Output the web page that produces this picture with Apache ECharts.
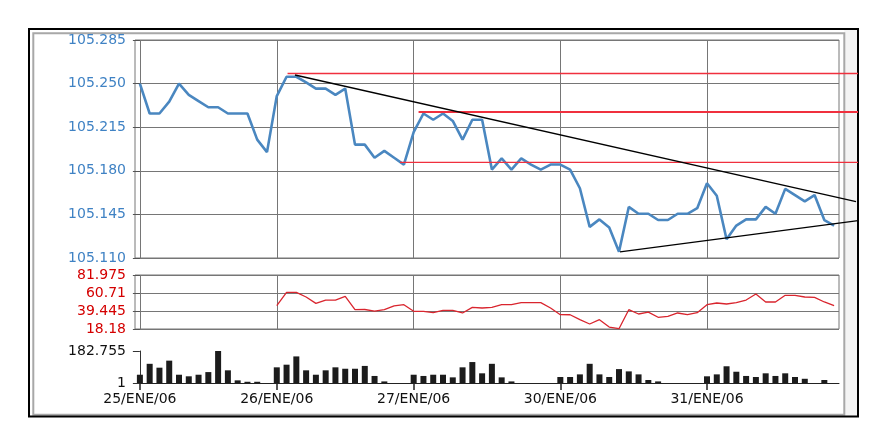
<!DOCTYPE html>
<html>
<head>
<meta charset="utf-8">
<script src="https://cdn.jsdelivr.net/npm/echarts@6/dist/echarts.min.js"></script>
<style>
html,body{margin:0;padding:0;background:#fff;}
#c{width:888px;height:445px;}
</style>
</head>
<body>
<div id="c"></div>
<script>
// ---- data ----
const dayLabels = ['25/ENE/06','26/ENE/06','27/ENE/06','30/ENE/06','31/ENE/06'];
const dayStart = [0,14,28,43,58];

const price = [
 105.250,105.226,105.226,105.2355,105.250,105.241,105.236,105.231,105.231,105.226,105.226,105.226,105.205,105.195,
 105.240,105.2555,105.2555,105.251,105.246,105.246,105.241,105.246,105.201,105.201,105.1905,105.196,105.1905,105.185,
 105.211,105.226,105.221,105.226,105.220,105.205,105.221,105.221,105.181,105.190,105.181,105.190,105.185,105.181,105.185,
 105.185,105.181,105.166,105.135,105.141,105.1345,105.115,105.151,105.1455,105.1455,105.1405,105.1405,105.1455,105.1455,105.150,
 105.170,105.160,105.125,105.136,105.141,105.141,105.151,105.1455,105.1655,105.1605,105.1555,105.1605,105.1405,105.136
];

const rsi = [
 null,null,null,null,null,null,null,null,null,null,null,null,null,null,
 45.7,61.5,61.5,56,48.5,52.4,52.4,56.8,41,41.2,39.4,41,45.4,46.9,
 39.1,39.1,37.5,40.3,40.3,37.1,43.8,43,43.8,46.9,46.9,49.3,49.3,49.3,43,
 35.1,35,29.2,24.1,29.2,20.5,18.5,41,35.9,38.2,32,33.2,37.1,35.1,37.5,
 46.9,48.9,47.7,49.3,52.4,59.5,50.1,50.1,58,58,56,55.6,50.1,45.7
];

const volume = [
 48,110,88,128,48,39,48,63,182.755,73,16,8,8,null,
 90,105,152,73,48,73,90,82,82,98,41,10,null,null,
 48,41,48,48,33,90,120,56,110,33,10,null,null,null,null,
 35,35,50,110,50,35,80,67,50,18,10,null,null,null,null,
 39,50,96,65,41,35,56,41,56,35,25,null,18,null
];

const priceTicks = [105.110,105.145,105.180,105.215,105.250,105.285];
const priceTickLabels = ['105.110','105.145','105.180','105.215','105.250','105.285'];
const rsiTicks = [18.18,39.445,60.71,81.975];
const rsiTickLabels = ['18.18','39.445','60.71','81.975'];
const volTicks = [1,182.755];
const volTickLabels = ['1','182.755'];

// support / resistance levels: [startIndex, level]
const levels = [[15.1,105.2581],[28.5,105.2272],[26.6,105.1867]];
const levelEnd = 73.44;
// trend lines: [[x1,y1],[x2,y2]]
const trendUpper = [[15.86,105.2569],[73.24,105.1552]];
const trendLower = [[49.1,105.115],[73.44,105.140]];

// ---- chart ----
const pairs = arr => arr.map((v,i)=>[i,v]);
const labelOf = (ticks, labels) => v => {
  let b = 0;
  for (let i=0;i<ticks.length;i++) if (Math.abs(ticks[i]-v) < Math.abs(ticks[b]-v)) b = i;
  return labels[b];
};
const FONT = 'DejaVu Sans';
const GRIDC = '#767676';

const xBase = (gi, extra) => Object.assign({
  type:'value', gridIndex: gi, min:-0.5, max:71.5,
  axisLine:{show:false}, axisTick:{show:false, customValues: dayStart},
  axisLabel:{show:false, customValues: dayStart},
  splitLine:{show:true, lineStyle:{color:GRIDC, width:1}}
}, extra || {});

const chart = echarts.init(document.getElementById('c'), null, {renderer:'canvas'});
chart.setOption({
  animation:false,
  backgroundColor:'#fff',
  graphic:[
    {type:'rect', z:-10, silent:true, shape:{x:844.3,y:30,width:13.2,height:385.5}, style:{fill:'#f4f4f4'}},
    {type:'rect', z:-9, silent:true, shape:{x:33.3,y:33.3,width:811,height:381.5}, style:{fill:'none', stroke:'#a8a8a8', lineWidth:2}},
    {type:'rect', z:-9, silent:true, shape:{x:29,y:29,width:829,height:387.5}, style:{fill:'none', stroke:'#000', lineWidth:2}}
  ],
  grid:[
    {left:135, top:40, width:704, height:218, show:true, borderColor:GRIDC, borderWidth:1, backgroundColor:'transparent'},
    {left:135, top:275, width:704, height:54, show:true, borderColor:GRIDC, borderWidth:1, backgroundColor:'transparent'},
    {left:135, top:351, width:704, height:32},
    {left:135, top:40, width:723, height:218}
  ],
  xAxis:[
    xBase(0),
    xBase(1),
    xBase(2, {
      axisLine:{show:true, lineStyle:{color:'#222', width:1}},
      axisTick:{show:true, customValues: dayStart, length:7, lineStyle:{color:'#222', width:1.5}},
      axisLabel:{show:true, customValues: dayStart, margin:9, color:'#111', fontFamily:FONT, fontSize:14,
        formatter: v => dayLabels[dayStart.indexOf(Math.round(v))] || ''},
      splitLine:{show:false}
    }),
    {type:'value', gridIndex:3, min:-0.5, max:levelEnd, show:false}
  ],
  yAxis:[
    {type:'value', gridIndex:0, min:105.110, max:105.285,
      axisLine:{show:false},
      axisTick:{show:true, customValues: priceTicks, length:7, lineStyle:{color:'#555'}},
      axisLabel:{customValues: priceTicks, margin:9, color:'#3f82c4', fontFamily:FONT, fontSize:14,
        formatter: labelOf(priceTicks, priceTickLabels)},
      splitLine:{show:true, lineStyle:{color:GRIDC, width:1}}},
    {type:'value', gridIndex:1, min:18.18, max:81.975,
      axisLine:{show:false},
      axisTick:{show:true, customValues: rsiTicks, length:7, lineStyle:{color:'#555'}},
      axisLabel:{customValues: rsiTicks, margin:9, color:'#d40000', fontFamily:FONT, fontSize:14,
        formatter: labelOf(rsiTicks, rsiTickLabels)},
      splitLine:{show:true, lineStyle:{color:GRIDC, width:1}}},
    {type:'value', gridIndex:2, min:1, max:182.755,
      axisLine:{show:true, lineStyle:{color:'#333'}},
      axisTick:{show:true, customValues: volTicks, length:7, lineStyle:{color:'#333'}},
      axisLabel:{customValues: volTicks, margin:9, color:'#111', fontFamily:FONT, fontSize:14,
        formatter: labelOf(volTicks, volTickLabels)},
      splitLine:{show:false}},
    {type:'value', gridIndex:3, min:105.110, max:105.285, show:false}
  ],
  series:[
    {type:'line', xAxisIndex:0, yAxisIndex:0, data:pairs(price), symbol:'none', z:3,
      lineStyle:{color:'#4a87c0', width:2.6}},
    {type:'line', xAxisIndex:1, yAxisIndex:1, data:pairs(rsi), symbol:'none', z:3, connectNulls:false,
      lineStyle:{color:'#d9252e', width:1.3}},
    {type:'bar', xAxisIndex:2, yAxisIndex:2, data:pairs(volume), barWidth:6, z:3,
      itemStyle:{color:'#1c1c1c'}},
    ...levels.map((l,i)=>({type:'line', xAxisIndex:3, yAxisIndex:3, symbol:'none', z:4, clip:false,
      data:[[l[0],l[1]],[levelEnd,l[1]]],
      lineStyle:{color:'#f0303e', width: i===1 ? 1.8 : 1.3}})),
    {type:'line', xAxisIndex:3, yAxisIndex:3, symbol:'none', z:5, clip:false, data:trendUpper,
      lineStyle:{color:'#000', width:1.3}},
    {type:'line', xAxisIndex:3, yAxisIndex:3, symbol:'none', z:5, clip:false, data:trendLower,
      lineStyle:{color:'#000', width:1.3}}
  ]
});
</script>
</body>
</html>
